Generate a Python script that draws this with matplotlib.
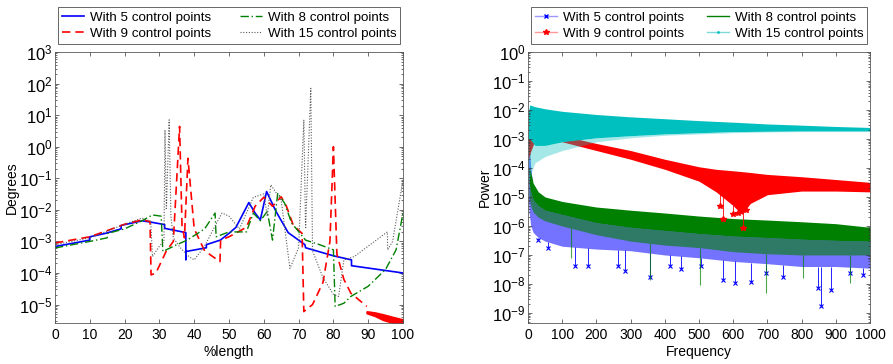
import matplotlib
matplotlib.use('Agg')
import matplotlib.pyplot as plt
from matplotlib.lines import Line2D
from matplotlib.ticker import LogLocator, FixedLocator, FuncFormatter
import numpy as np

plt.rcParams['font.family'] = ['Liberation Sans', 'DejaVu Sans']
plt.rcParams['mathtext.fontset'] = 'custom'
plt.rcParams['mathtext.rm'] = 'Liberation Sans'
plt.rcParams['mathtext.default'] = 'regular'

labels = ['With 5 control points', 'With 9 control points',
          'With 8 control points', 'With 15 control points']

# ---- left panel: error along the path (Degrees vs %length)
x5 = [0, 10, 10, 14.5, 19, 19, 25, 28, 31.5, 31.5, 37.6, 37.6, 37.7, 43.5, 43.5,
      47.5, 50, 52, 55.7, 57.5, 59, 60.8, 63.5, 67, 71.8, 72, 80, 85.2, 85.2, 100]
y5 = [6.9e-4, 1.1e-3, 1.4e-3, 1.8e-3, 2.5e-3, 3.2e-3, 4.5e-3, 4.0e-3, 3.4e-3, 2.6e-3,
      1.9e-3, 2.6e-4, 4.8e-4, 6.3e-4, 7.9e-4, 1.1e-3, 1.8e-3, 2.8e-3, 1.7e-2, 7.9e-3,
      4.8e-3, 3.8e-2, 8.9e-3, 1.9e-3, 7.9e-4, 6.3e-4, 3.5e-4, 2.6e-4, 1.7e-4, 1.0e-4]

x9 = [0, 10, 15, 20, 25, 27.3, 27.6, 29, 32, 34, 35.8, 36.5, 37.2, 38.2, 40, 43,
      47.4, 47.6, 50, 55, 57.5, 60, 62.5, 65, 66.5, 68.5, 71, 71.5, 74, 77, 79, 80,
      81, 83, 85, 89.6]
y9 = [8.9e-4, 1.4e-3, 2.2e-3, 3.5e-3, 4.8e-3, 4.3e-3, 8.7e-5, 1.0e-4, 5.0e-4, 1.0e-3,
      4.4, 3.2e-3, 1.3e-3, 0.43, 2.5e-3, 5.0e-4, 2.3e-4, 1.1e-3, 1.4e-3, 2.8e-3,
      1.3e-2, 2.5e-2, 1.3e-2, 2.6e-2, 1.3e-2, 3.2e-3, 1.8e-3, 6.0e-6, 1.0e-5, 5.0e-5,
      1.0e-3, 1.0, 4.0e-4, 6.3e-5, 2.3e-5, 8.7e-6]
tail_x = [89.6, 92, 94.3, 97, 100]
tail_hi = [6.0e-6, 5.5e-6, 4.8e-6, 4.0e-6, 3.3e-6]
tail_lo = [5.4e-6, 4.4e-6, 3.3e-6, 2.7e-6, 2.3e-6]

x8 = [0, 10, 15, 15.2, 20, 25, 28, 30.5, 31, 35, 38, 43, 46, 46.3, 50, 55, 57, 59,
      61, 62.5, 64, 66, 68, 72, 76, 80, 80.5, 83, 85, 90, 95, 98, 100]
y8 = [6.2e-4, 1.0e-3, 1.3e-3, 1.8e-3, 2.5e-3, 4.5e-3, 6.9e-3, 6.3e-3, 4.8e-4, 7.9e-4,
      1.1e-3, 2.5e-3, 7.9e-3, 1.4e-3, 2.0e-3, 2.0e-3, 7.9e-3, 4.5e-3, 8.9e-3, 1.1e-3,
      3.4e-2, 1.6e-2, 3.8e-3, 1.1e-3, 7.9e-4, 5.4e-4, 8.7e-6, 1.1e-5, 1.8e-5, 3.8e-5,
      1.3e-4, 5.4e-4, 7.9e-3]

x15 = [0, 10, 20, 25, 27.5, 28, 30, 31.3, 31.6, 32.0, 32.8, 33.3, 34, 36, 38.5, 40,
       43, 47, 48, 50, 53, 55, 57, 60, 61, 62, 65, 67.5, 70, 71.5, 72, 73.5, 74, 77,
       80, 81.5, 83, 86, 90, 95.5, 95.6, 97, 100]
y15 = [7.9e-4, 1.3e-3, 3.5e-3, 5.5e-3, 4.3e-3, 3.3e-4, 7.1e-4, 1.0e-3, 3.4, 1.0e-2,
       7.1, 6.3e-3, 1.3e-3, 6.3e-4, 3.3e-4, 2.6e-4, 7.1e-4, 5.0e-3, 7.9e-3, 6.3e-3,
       2.5e-3, 7.9e-3, 2.5e-2, 3.2e-2, 6.3e-3, 6.2e-2, 2.0e-2, 1.4e-4, 6.3e-4, 7.1,
       2.5e-3, 71, 5.0e-4, 7.1e-5, 2.1e-5, 1.8e-5, 2.6e-4, 3.3e-4, 7.1e-4, 2.0e-3,
       5.4e-4, 1.0e-3, 8.9e-2]

# ---- right panel: power spectra, read as envelopes of the dense traces
fc = [1, 5, 20, 50, 100, 200, 300, 400, 500, 600, 700, 800, 900, 1000]
cyan_top = [8e-3, 1.5e-2, 1.3e-2, 1.1e-2, 9e-3, 7e-3, 5.8e-3, 5e-3, 4.3e-3, 3.8e-3,
            3.3e-3, 3e-3, 2.7e-3, 2.5e-3]
cyan_mid = [1e-3, 1e-3, 6e-4, 6e-4, 8e-4, 1.1e-3, 1.3e-3, 1.5e-3, 1.65e-3, 1.8e-3,
            1.85e-3, 1.9e-3, 1.9e-3, 1.9e-3]
cyan_low = [3e-5, 5e-5, 1.5e-4, 2.5e-4, 4e-4, 8e-4, 1.1e-3, 1.35e-3, 1.5e-3, 1.65e-3,
            1.75e-3, 1.8e-3, 1.8e-3, 1.8e-3]

fr = [1, 5, 20, 50, 100, 200, 300, 400, 500, 550, 600, 625, 650, 700, 800, 900, 1000]
red_top = [1e-2, 2e-3, 1.6e-3, 1.5e-3, 1.3e-3, 7e-4, 4e-4, 2e-4, 1.1e-4, 9e-5, 8e-5,
           7.5e-5, 7e-5, 6e-5, 5e-5, 4e-5, 3.2e-5]
red_low = [2e-4, 3e-4, 9e-4, 1e-3, 8e-4, 4e-4, 2e-4, 9e-5, 3.5e-5, 1.5e-5, 5e-6,
           2.5e-6, 6e-6, 1.2e-5, 1.6e-5, 1.6e-5, 1.5e-5]
red_dip_f = [560, 570, 599, 614, 628, 638]
red_dip_p = [4.8e-6, 1.7e-6, 2.5e-6, 2.8e-6, 8.5e-7, 3.7e-6]

fg = [3, 8, 15, 30, 50, 100, 200, 300, 400, 500, 600, 700, 800, 900, 1000]
green_top = [1e-4, 7e-5, 3e-5, 1.5e-5, 1e-5, 7e-6, 4.5e-6, 3.5e-6, 2.8e-6, 2.2e-6,
             1.8e-6, 1.6e-6, 1.4e-6, 1.2e-6, 9e-7]
green_mid = [3e-5, 1.5e-5, 8e-6, 5e-6, 3.5e-6, 2.5e-6, 1.3e-6, 9e-7, 7e-7, 5.5e-7,
             4.5e-7, 4e-7, 3.5e-7, 3.2e-7, 3e-7]
green_low = [1e-5, 5e-6, 3e-6, 2e-6, 1.5e-6, 1e-6, 5e-7, 3e-7, 2.2e-7, 1.8e-7, 1.3e-7,
             1.1e-7, 1e-7, 1e-7, 1e-7]
green_dip_f = [127, 356, 502, 697, 803, 940]
green_dip_p = [8e-8, 1.4e-8, 9e-9, 4.8e-9, 1.6e-8, 1.1e-8]

fb = [1, 3, 8, 15, 30, 50, 100, 200, 300, 400, 500, 600, 700, 800, 900, 1000]
blue_top = [1.5e-3, 8e-4, 1e-4, 2e-5, 8e-6, 5e-6, 3e-6, 2e-6, 1.5e-6, 1.2e-6, 1e-6,
            9e-7, 8e-7, 7e-7, 6e-7, 5e-7]
blue_low = [1e-5, 3e-6, 1e-6, 6e-7, 4e-7, 3e-7, 2e-7, 1.6e-7, 1.4e-7, 1e-7, 8e-8, 6e-8,
            5e-8, 4e-8, 4e-8, 3.5e-8]
blue_dip_f = [30, 59, 137, 176, 264, 283, 356, 414, 448, 507, 570, 604, 653, 697, 745,
              847, 857, 886, 940, 979]
blue_dip_p = [3.4e-7, 1.7e-7, 4.1e-8, 4.1e-8, 4.1e-8, 2.7e-8, 1.8e-8, 4.1e-8, 3.2e-8,
              4.1e-8, 1.4e-8, 1.1e-8, 1.2e-8, 2.4e-8, 1.8e-8, 7.2e-9, 1.7e-9, 6.3e-9,
              2.4e-8, 2.1e-8]

BLUE, RED, GREEN, CYAN = (0, 0, 1), (1, 0, 0), (0, 0.5, 0), (0, 0.75, 0.75)

fig = plt.figure(figsize=(8.93, 3.64), dpi=100)
ax1 = fig.add_axes([0.0616, 0.1126, 0.3897, 0.7445])
ax2 = fig.add_axes([0.5913, 0.1126, 0.3830, 0.7445])

ax1.plot(x5, y5, color=BLUE, lw=1.2, label=labels[0])
ax1.plot(x9, y9, color=RED, lw=1.2, ls=(0, (5, 3)), label=labels[1])
ax1.fill_between(tail_x, tail_lo, tail_hi, color=RED, lw=1.5, edgecolor=RED)
ax1.plot(x8, y8, color=GREEN, lw=1.0, ls=(0, (6, 2, 1, 2)), label=labels[2])
ax1.plot(x15, y15, color='0.35', lw=0.8, ls=(0, (1, 1.5)), label=labels[3])
ax1.set_yscale('log')
ax1.set_xlim(0, 100)
ax1.set_ylim(2.6e-6, 1e3)
ax1.yaxis.set_major_locator(FixedLocator([10.0 ** k for k in range(-5, 4)]))
ax1.set_xticks(np.arange(0, 101, 10))
ax1.set_xlabel('%length', fontsize=10, labelpad=2)
ax1.set_ylabel('Degrees', fontsize=10, labelpad=0)
h1, l1 = ax1.get_legend_handles_labels()

# right panel: blue, red, green, cyan
ax2.fill_between(fb, blue_low, blue_top, color=BLUE, lw=0, alpha=0.55)
ax2.vlines(blue_dip_f, blue_dip_p, np.interp(blue_dip_f, fb, blue_low), color=BLUE, lw=0.6)
ax2.plot(blue_dip_f, blue_dip_p, ls='none', marker='x', ms=3, mew=0.8, color=BLUE)
ax2.fill_between(fr, red_low, red_top, color=RED, lw=0)
ax2.vlines(red_dip_f, red_dip_p, np.interp(red_dip_f, fr, red_low), color=RED, lw=0.6)
ax2.plot(red_dip_f, red_dip_p, ls='none', marker='*', ms=4, color=RED)
ax2.fill_between(fg, green_low, green_mid, color=GREEN, lw=0, alpha=0.6)
ax2.fill_between(fg, green_mid, green_top, color=GREEN, lw=0)
ax2.vlines(green_dip_f, green_dip_p, np.interp(green_dip_f, fg, green_low),
           color=GREEN, lw=0.8, alpha=0.7)
ax2.fill_between(fc, cyan_low, cyan_mid, color=CYAN, lw=0, alpha=0.35)
ax2.fill_between(fc, cyan_mid, cyan_top, color=CYAN, lw=0)
ax2.set_yscale('log')
ax2.set_xlim(0, 1000)
ax2.set_ylim(4.5e-10, 1)
ax2.yaxis.set_major_locator(FixedLocator([10.0 ** k for k in range(-9, 1)]))
ax2.set_xticks(np.arange(0, 1001, 100))
ax2.set_xlabel('Frequency', fontsize=10, labelpad=2)
ax2.set_ylabel('Power', fontsize=10, labelpad=0)
h2 = [Line2D([], [], color=(0.6, 0.6, 1), marker='x', ms=3, mec=BLUE, lw=1),
      Line2D([], [], color=(1, 0.6, 0.6), marker='*', ms=4, mec=RED, mfc=RED, lw=1),
      Line2D([], [], color=GREEN, lw=1),
      Line2D([], [], color=(0.5, 0.85, 0.85), marker='.', ms=2, mec=CYAN, lw=1)]

decade = FuncFormatter(lambda v, pos: r'$10^{%d}$' % int(round(np.log10(v))))
for ax in (ax1, ax2):
    ax.yaxis.set_major_formatter(decade)
    ax.yaxis.set_minor_locator(LogLocator(base=10, subs=np.arange(2, 10), numticks=30))
    ax.tick_params(which='both', direction='in', top=True, right=True,
                   width=0.5, colors='0.2', labelcolor='black')
    ax.tick_params(axis='x', labelsize=10)
    ax.tick_params(axis='y', labelsize=12, pad=2)
    ax.tick_params(which='major', length=3)
    ax.tick_params(which='minor', length=1.5)
    for s in ax.spines.values():
        s.set_linewidth(0.6)
        s.set_color('0.35')

for ax, hs in ((ax1, h1), (ax2, h2)):
    leg = ax.legend(hs, labels, loc='lower left', bbox_to_anchor=(0, 1.02, 1, 0.2),
                    mode='expand', ncol=2, fontsize=9.6, frameon=True, fancybox=False,
                    framealpha=1, edgecolor='0.3', handlelength=1.7, handletextpad=0.4,
                    borderpad=0.3, labelspacing=0.3, borderaxespad=0.2,
                    columnspacing=0.8)
    leg.get_frame().set_linewidth(0.6)

fig.savefig('out.png', dpi=100)
